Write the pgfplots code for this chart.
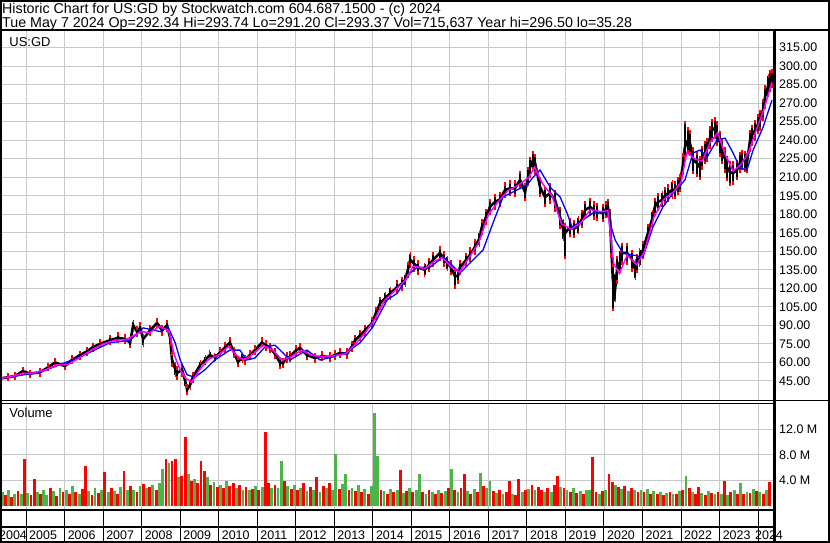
\documentclass[border=0pt]{standalone}
\usepackage{pgfplots}
\pgfplotsset{compat=1.18}
\usepackage{pgfplotstable}
\usepackage{fontspec}
\setmainfont{Liberation Sans}
\definecolor{gridgray}{RGB}{200,200,200}
\definecolor{volred}{RGB}{255,0,0}
\definecolor{volgreen}{RGB}{76,180,72}
\definecolor{mag}{RGB}{255,0,255}
\definecolor{mablue}{RGB}{0,0,255}
\newcommand{\lab}{\fontsize{12.5}{14}\selectfont}
\newcommand{\hdr}{\fontsize{14.3}{16}\selectfont}

\pgfplotstableread{
t c ep em
2004.32 47 1.5 2
2004.53 48 2 1.5
2004.71 49 1.5 2
2004.92 53 2 2
2005.10 51 1.5 2
2005.36 52 2 2
2005.57 56 2 1.5
2005.75 60 2 2.5
2006.01 57 2 2
2006.19 62 2.5 2
2006.40 66 2 2.5
2006.58 69 2.5 2
2006.74 72.5 2 2.5
2006.92 75 2.5 2
2007.18 78 3 2.5
2007.39 80 3 3
2007.57 79 2.5 3
2007.70 76 3 3
2007.78 90 3 4
2007.88 85 3 3
2007.96 88 3 3
2008.04 79 3 5
2008.22 86 3 3
2008.40 92 2.5 3
2008.53 86 3 3
2008.66 90 3 4
2008.74 80 4 5
2008.79 62 5 4
2008.87 55 4 5
2008.92 51.5 4 4
2009.05 54 3 4
2009.13 45 3 4
2009.18 38 3 3
2009.26 42 3 3
2009.33 48 3 3
2009.52 58 2.5 3
2009.65 62 2.5 2.5
2009.77 66 2.5 3
2009.90 64 2.5 2.5
2010.03 68 3 2.5
2010.16 72 3 3
2010.29 76 3 3
2010.40 68 3 3
2010.50 60.5 3 3
2010.61 64 2.5 3
2010.68 62 2.5 2.5
2010.81 66 2.5 2.5
2010.94 70 2.5 2.5
2011.12 76 3 2.5
2011.23 74 2.5 3
2011.33 72 2.5 3
2011.46 67 3 3
2011.59 60 3 4
2011.67 59.6 3 3
2011.77 64 3 3
2011.85 64.5 3 2.5
2012.01 70 2.5 3
2012.11 71.7 2.5 3
2012.29 66 3 3
2012.50 63.6 2.5 2.5
2012.68 65 2.5 2.5
2012.89 64.5 2.5 3
2013.02 66 2.5 2.5
2013.15 67.7 2.5 2.5
2013.33 67 3 2.5
2013.46 73 3 3
2013.54 78 3 3
2013.67 82 3 3
2013.80 86 3 3
2013.98 92 3.5 3
2014.08 100 3.5 4
2014.19 108 4 4
2014.32 112 4 4
2014.45 116 4 4
2014.63 121 4 4
2014.76 124 4 4.5
2014.84 127 4 4.5
2014.91 135 5 5
2014.97 143 5 5
2015.07 140 4.5 5
2015.17 137 4.5 4.5
2015.35 135 4.5 4.5
2015.46 139 4.5 4.5
2015.56 143 5 4.5
2015.74 148.6 4 5
2015.85 144 4.5 5
2015.93 140.5 4.5 5
2016.03 137 4.5 5
2016.13 130 4.5 9
2016.21 130 4.5 5
2016.26 137 4.5 4.5
2016.42 143 4.5 4.5
2016.52 147 5 4.5
2016.65 153.5 5 5
2016.76 160 5 5
2016.83 169.7 5 5
2016.94 178 5 5
2017.04 186 5 5
2017.17 190 5 5
2017.30 192 5 5
2017.43 199.6 5 5
2017.56 201 5 5
2017.69 201 5 6
2017.82 207.7 6 6
2017.95 198 6 6
2018.03 210 7 6
2018.08 218 7 7
2018.16 224 6 7
2018.21 221.5 6 8
2018.34 202 7 7
2018.47 194 7 7
2018.60 197 7 7
2018.73 191.5 7 8
2018.86 177.8 7 8
2018.94 168 7 8
2018.99 164.8 7 20
2019.12 169.7 6 7
2019.22 168 6 6
2019.33 171 6 6
2019.43 176 6 6
2019.51 183.4 6 6
2019.64 186 6 6
2019.74 183 6 6
2019.82 182 6 6
2019.97 181 6 6
2020.05 184 5 6
2020.10 186 5 7
2020.16 175 8 10
2020.18 159 10 12
2020.23 126.8 12 24
2020.29 120 12 10
2020.34 135 10 10
2020.42 142 8 8
2020.47 148.6 7 8
2020.60 148.6 7 8
2020.73 143 7 8
2020.81 135 7 7
2020.86 140.5 6 7
2020.93 145 6 6
2021.01 151 6 6
2021.14 164.8 6 6
2021.25 176 6 6
2021.32 186 6 6
2021.40 190 6 6
2021.51 191.5 6 6
2021.58 195 6 6
2021.66 197 6 6
2021.77 200 6 6
2021.84 199.6 6 6
2021.92 203 6 6
2021.97 205 6 6
2022.05 220 8 7
2022.10 234.4 20 8
2022.18 240 9 9
2022.23 237.7 9 9
2022.31 224 9 10
2022.41 221.5 8 10
2022.49 218 8 9
2022.54 226.3 8 9
2022.62 230 8 8
2022.67 232 8 8
2022.75 242 8 8
2022.80 248 8 8
2022.88 250 7 8
2022.93 245.8 8 9
2023.01 238 8 10
2023.06 232 8 10
2023.14 225 8 10
2023.19 218 8 10
2023.27 214 8 10
2023.35 213.4 8 8
2023.45 215.8 7 7
2023.53 222 7 7
2023.58 224 7 7
2023.66 223 7 7
2023.71 221.5 7 7
2023.79 240 7 8
2023.84 244 7 7
2023.92 248 7 7
2024.00 253 7 7
2024.05 256 7 7
2024.13 265 7 8
2024.18 275 8 8
2024.26 284 8 8
2024.31 288.7 7 8
2024.36 290 6 6
}\price

\pgfplotstableread{
t m
2004.32 47
2004.60 48.5
2004.90 51
2005.20 51.5
2005.50 54
2005.80 58
2006.10 58.5
2006.40 64
2006.70 70
2007.00 75
2007.30 78
2007.60 78.5
2007.80 82
2008.00 85
2008.20 84
2008.45 89
2008.70 86
2008.85 66
2009.00 54
2009.15 47
2009.30 44
2009.50 54
2009.75 63
2010.00 66
2010.25 73
2010.45 66
2010.65 62
2010.90 67
2011.15 74
2011.40 70
2011.65 62
2011.90 65
2012.15 70
2012.40 66
2012.70 64.5
2013.00 65.5
2013.30 67
2013.55 75
2013.80 84
2014.05 95
2014.30 110
2014.60 119
2014.85 127
2015.05 138
2015.35 136
2015.60 142
2015.80 145
2016.05 137
2016.25 133
2016.50 145
2016.75 157
2017.00 180
2017.25 190
2017.50 199
2017.80 204
2018.05 210
2018.20 218
2018.40 205
2018.65 195
2018.90 172
2019.15 168
2019.40 173
2019.65 184
2019.90 182
2020.10 183
2020.25 140
2020.40 132
2020.60 147
2020.85 139
2021.05 150
2021.30 178
2021.55 192
2021.80 198
2022.00 206
2022.15 230
2022.35 225
2022.55 223
2022.75 238
2022.95 246
2023.15 228
2023.35 215
2023.55 220
2023.75 230
2023.95 248
2024.15 265
2024.36 287
}\magma

\pgfplotstableread{
t b
2004.32 47
2005.36 52
2006.40 64.5
2007.18 76
2007.70 78
2008.04 88
2008.48 85
2008.68 89
2008.87 76
2009.00 62
2009.18 50
2009.38 48
2009.64 54
2009.90 62
2010.29 70
2010.55 70
2010.73 62
2010.94 63.6
2011.20 72.5
2011.46 74
2011.67 67.7
2011.85 62
2012.29 70
2012.63 62
2012.97 64.5
2013.33 68.5
2013.67 76
2014.00 88.7
2014.37 110.6
2014.63 116
2014.97 132.4
2015.15 137
2015.48 137
2015.82 145.4
2016.00 140.5
2016.26 132.4
2016.60 143
2016.86 151
2017.12 173
2017.38 194
2017.74 199.6
2018.00 203.7
2018.16 210
2018.34 215.8
2018.60 202
2018.86 194
2019.04 181
2019.17 169.7
2019.38 173.7
2019.71 181
2020.08 181
2020.29 159
2020.49 148.6
2020.75 147
2021.01 145.4
2021.27 169.7
2021.53 186
2021.79 197
2022.10 207.7
2022.31 229.6
2022.49 232
2022.67 226
2022.93 240
2023.14 241.7
2023.35 229.6
2023.53 217.5
2023.71 215.8
2023.87 232
2024.13 250.6
2024.36 272.5
}\mablu

\pgfplotstableread{
t v
2004.46 1.8
2004.63 1.5
2004.79 2.4
2004.96 7.4
2005.13 1.7
2005.21 4.2
2005.38 2.0
2005.63 2.9
2005.79 1.6
2005.96 2.2
2006.13 1.9
2006.29 2.3
2006.46 2.7
2006.54 6.3
2006.71 1.8
2006.88 2.1
2007.04 5.4
2007.21 2.8
2007.38 1.9
2007.54 5.5
2007.71 3.2
2007.88 2.2
2008.04 3.5
2008.21 3.0
2008.38 2.6
2008.63 7.4
2008.79 7.1
2008.88 7.3
2009.04 4.8
2009.13 10.8
2009.29 3.9
2009.46 3.6
2009.54 7.1
2009.63 5.5
2009.79 3.4
2009.96 3.0
2010.13 2.8
2010.29 3.2
2010.38 3.7
2010.54 3.4
2010.71 3.0
2010.88 2.7
2011.04 2.6
2011.21 11.5
2011.29 3.6
2011.46 3.3
2011.71 3.9
2011.88 2.7
2012.04 2.5
2012.21 3.7
2012.38 3.0
2012.54 4.6
2012.71 3.1
2012.88 3.6
2013.13 2.7
2013.38 2.6
2013.54 2.4
2013.71 2.2
2013.88 2.0
2014.21 2.6
2014.38 2.0
2014.54 2.2
2014.71 5.7
2014.88 2.4
2015.04 2.3
2015.29 2.2
2015.46 2.5
2015.63 1.9
2015.79 2.1
2015.96 2.8
2016.13 2.6
2016.29 2.9
2016.38 5.1
2016.54 2.0
2016.71 2.3
2016.88 3.2
2017.13 2.4
2017.29 2.6
2017.46 2.3
2017.54 4.0
2017.71 1.8
2017.79 4.3
2017.96 2.5
2018.13 3.4
2018.29 3.0
2018.38 2.6
2018.54 2.8
2018.71 3.3
2018.79 4.8
2018.96 2.9
2019.13 2.3
2019.29 2.1
2019.46 2.0
2019.71 7.7
2019.79 2.2
2019.96 2.4
2020.13 5.1
2020.21 3.8
2020.38 3.0
2020.54 3.2
2020.71 2.9
2020.88 2.3
2021.04 2.2
2021.21 2.0
2021.38 1.9
2021.54 1.8
2021.71 2.3
2021.88 2.0
2022.04 2.5
2022.21 2.8
2022.38 2.0
2022.46 3.0
2022.63 1.8
2022.79 2.1
2022.96 2.3
2023.13 3.9
2023.29 2.2
2023.46 1.9
2023.63 2.0
2023.79 2.1
2023.96 2.4
2024.13 1.9
2024.29 3.8
}\volr

\pgfplotstableread{
t v
2004.38 2.2
2004.54 2.6
2004.71 2.0
2004.88 1.9
2005.04 2.1
2005.29 2.3
2005.46 2.6
2005.54 1.8
2005.71 2.4
2005.88 2.8
2006.04 2.5
2006.21 3.1
2006.38 2.0
2006.63 2.4
2006.79 2.9
2006.96 2.6
2007.13 2.2
2007.29 2.4
2007.46 3.0
2007.63 2.6
2007.79 2.5
2007.96 3.1
2008.13 2.8
2008.29 3.3
2008.46 3.6
2008.54 5.8
2008.71 6.8
2008.96 4.5
2009.21 5.0
2009.38 4.2
2009.71 4.6
2009.88 3.8
2010.04 3.3
2010.21 4.0
2010.46 2.9
2010.63 2.6
2010.79 2.5
2010.96 3.1
2011.13 3.0
2011.38 2.8
2011.54 2.9
2011.63 7.1
2011.79 3.2
2011.96 3.4
2012.13 2.9
2012.29 2.4
2012.46 2.6
2012.63 2.3
2012.79 2.8
2012.96 2.5
2013.04 8.2
2013.21 3.5
2013.29 5.1
2013.46 2.9
2013.63 3.3
2013.79 2.7
2013.96 3.2
2014.04 14.6
2014.13 7.8
2014.29 2.4
2014.46 2.7
2014.63 2.5
2014.79 2.1
2014.96 2.8
2015.13 2.6
2015.21 5.1
2015.38 2.0
2015.54 2.3
2015.71 2.6
2015.88 2.4
2016.04 5.8
2016.21 2.2
2016.46 2.4
2016.63 2.7
2016.79 5.2
2016.96 2.8
2017.04 4.0
2017.21 2.1
2017.38 1.9
2017.63 2.0
2017.88 2.2
2018.04 2.7
2018.21 2.5
2018.46 2.3
2018.63 2.2
2018.88 3.0
2019.04 2.6
2019.21 2.8
2019.38 2.4
2019.54 2.6
2019.63 2.5
2019.88 2.0
2020.04 2.6
2020.29 3.4
2020.46 2.7
2020.63 2.4
2020.79 2.6
2020.96 2.5
2021.13 2.7
2021.29 2.4
2021.46 2.2
2021.63 2.1
2021.79 1.9
2021.96 2.4
2022.13 4.7
2022.29 2.2
2022.54 2.1
2022.71 2.4
2022.88 1.9
2023.04 2.0
2023.21 1.8
2023.38 2.6
2023.54 3.6
2023.71 2.3
2023.88 2.7
2024.04 2.2
2024.21 2.5
}\volg

\begin{document}
\begin{tikzpicture}
\useasboundingbox (0bp,0bp) rectangle (830bp,543bp);
\fill[white] (0bp,0bp) rectangle (830bp,543bp);

% ---------- price panel ----------
\begin{axis}[
  at={(0bp,142.5bp)}, anchor=south west,
  scale only axis, width=773bp, height=369.5bp,
  xmin=2004.324, xmax=2024.386, ymin=29.2, ymax=328.4,
  axis line style={draw=none}, major tick length=0pt,
  xtick={2005,2006,...,2024}, xticklabels={},
  ytick={45,60,...,315},
  yticklabels={45.00,60.00,75.00,90.00,105.00,120.00,135.00,150.00,165.00,180.00,195.00,210.00,225.00,240.00,255.00,270.00,285.00,300.00,315.00},
  yticklabel pos=right,
  yticklabel style={font=\lab, anchor=west, inner sep=0pt, xshift=6bp},
  grid=major, grid style={gridgray, line width=1bp},
  clip=true]
\addplot[black, line width=2.6bp, no markers,
  error bars/.cd, y dir=both, y explicit,
  error bar style={black, line width=1.9bp},
  error mark options={volred, line width=1.3bp, mark size=1.7bp}]
  table[x=t, y=c, y error plus=ep, y error minus=em] {\price};
\addplot[mablue, line width=1.3bp, no markers] table[x=t, y=b] {\mablu};
\addplot[mag, line width=1.5bp, no markers] table[x=t, y=m] {\magma};
\end{axis}

% ---------- volume panel ----------
\begin{axis}[
  at={(0bp,34bp)}, anchor=south west,
  scale only axis, width=773bp, height=105bp,
  xmin=2004.324, xmax=2024.386, ymin=-0.4, ymax=15.93,
  axis line style={draw=none}, major tick length=0pt,
  xtick={2005,2006,...,2024}, xticklabels={},
  ytick={4,8,12}, yticklabels={4.0 M,8.0 M,12.0 M},
  yticklabel pos=right,
  yticklabel style={font=\lab, anchor=west, inner sep=0pt, xshift=6bp},
  grid=major, grid style={gridgray, line width=1bp},
  clip=true]
\addplot[ycomb, volred, line width=2.8bp, no markers] table[x=t, y=v] {\volr};
\addplot[ycomb, volgreen, line width=2.8bp, no markers] table[x=t, y=v] {\volg};
\end{axis}

% ---------- frame and rows ----------
\draw[line width=2bp] (0bp,512.7bp) -- (830bp,512.7bp);
\draw[line width=1bp] (0bp,142.5bp) -- (830bp,142.5bp);
\draw[line width=1bp] (0bp,139.8bp) -- (773bp,139.8bp);
\draw[line width=2bp] (0bp,33bp) -- (773bp,33bp);
\draw[line width=2bp] (0bp,16bp) -- (773bp,16bp);
\foreach \yr in {2005,2006,...,2024}{
  \pgfmathsetmacro{\xp}{-12.5+38.53*(\yr-2004)}
  \draw[line width=1bp] (\xp bp,33bp) -- (\xp bp,2bp);
}
\foreach \yr in {2005,2006,...,2023}{
  \pgfmathsetmacro{\xp}{-12.5+38.53*(\yr-2004)+3}
  \node[anchor=base west, inner sep=0pt, font=\lab] at (\xp bp,4bp) {\yr};
}
\node[anchor=base west, inner sep=0pt, font=\lab] at (-1bp,4bp) {2004};
\node[anchor=base west, inner sep=0pt, font=\lab] at (755bp,4bp) {2024};

\node[anchor=base west, inner sep=0pt, font=\fontsize{13}{15}\selectfont] at (9.3bp,496.3bp) {US:GD};
\node[anchor=base west, inner sep=0pt, font=\fontsize{13}{15}\selectfont] at (9.3bp,125.7bp) {Volume};

\node[anchor=base west, inner sep=0pt, font=\hdr] at (2bp,529.7bp) {Historic Chart for US:GD by Stockwatch.com 604.687.1500 - (c) 2024};
\node[anchor=base west, inner sep=0pt, font=\hdr] at (2bp,515.7bp) {Tue May 7 2024 Op=292.34 Hi=293.74 Lo=291.20 Cl=293.37 Vol=715,637 Year hi=296.50 lo=35.28};

\draw[line width=3bp] (774.2bp,512.7bp) -- (774.2bp,0bp);
\draw[line width=2bp] (1bp,1bp) rectangle (829bp,542bp);
\end{tikzpicture}
\end{document}
